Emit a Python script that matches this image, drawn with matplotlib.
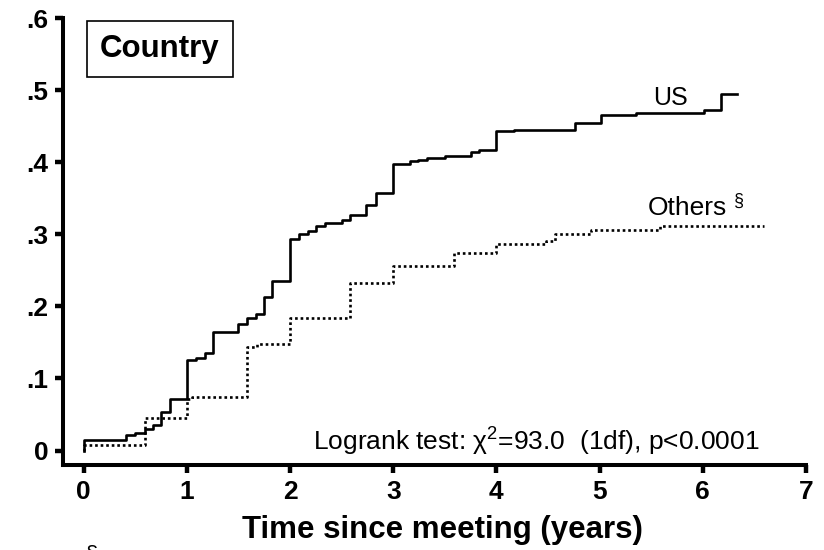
import matplotlib
matplotlib.use("Agg")
import matplotlib.pyplot as plt

# cumulative incidence (step curves)
us_time = [0, 0, 0.41, 0.495, 0.59, 0.67, 0.75, 0.835, 1.0, 1.09, 1.175, 1.255, 1.5, 1.58,
           1.67, 1.75, 1.83, 2.0, 2.09, 2.17, 2.25, 2.34, 2.5, 2.58, 2.74, 2.83, 3.0, 3.16,
           3.24, 3.33, 3.5, 3.75, 3.83, 4.0, 4.17, 4.76, 5.01, 5.35, 6.01, 6.18, 6.33]
us_value = [0, 0.014, 0.021, 0.025, 0.030, 0.035, 0.053, 0.071, 0.125, 0.129, 0.136, 0.164,
            0.176, 0.184, 0.190, 0.213, 0.235, 0.294, 0.300, 0.304, 0.312, 0.315, 0.320,
            0.327, 0.341, 0.357, 0.398, 0.401, 0.403, 0.406, 0.409, 0.414, 0.417, 0.443,
            0.445, 0.454, 0.466, 0.468, 0.473, 0.495, 0.495]

others_time = [0, 0, 0.59, 1.0, 1.05, 1.58, 1.68, 2.0, 2.58, 3.0, 3.59, 4.0, 4.48, 4.57,
               4.92, 5.59, 6.59]
others_value = [0, 0.008, 0.045, 0.071, 0.074, 0.144, 0.148, 0.184, 0.232, 0.256, 0.274,
                0.287, 0.291, 0.300, 0.306, 0.312, 0.312]

x_ticks = [0, 1, 2, 3, 4, 5, 6, 7]
y_ticks = [0, 0.1, 0.2, 0.3, 0.4, 0.5, 0.6]
y_tick_labels = ["0", ".1", ".2", ".3", ".4", ".5", ".6"]

plt.rcParams["font.family"] = ["Liberation Sans", "DejaVu Sans"]
plt.rcParams["mathtext.fontset"] = "custom"
plt.rcParams["mathtext.rm"] = "Liberation Sans"
plt.rcParams["mathtext.it"] = "Liberation Sans"

fig = plt.figure(figsize=(8.24, 5.5), dpi=100)
ax = fig.add_axes([63 / 824, 1 - 465 / 550, 743 / 824, 447 / 550])

ax.step(us_time, us_value, where="post", color="black", lw=1.9)
ax.step(others_time, others_value, where="post", color="black", lw=1.9,
        linestyle=(0, (1, 1.1)))

ax.set_xlim(-0.2, 7)
ax.set_ylim(-0.02, 0.6)
ax.set_xticks(x_ticks)
ax.set_yticks(y_ticks)
ax.set_yticklabels(y_tick_labels)

for side in ["top", "right"]:
    ax.spines[side].set_visible(False)
for side in ["left", "bottom"]:
    ax.spines[side].set_linewidth(2.9)
ax.tick_params(axis="both", direction="out", length=5.5, width=3.2,
               labelsize=19, pad=5)
for lab in ax.get_xticklabels() + ax.get_yticklabels():
    lab.set_fontweight("bold")

ax.text(5.52, 0.48, "US", fontsize=18, ha="left", va="baseline")
ax.text(5.47, 0.327, "Others", fontsize=19, ha="left", va="baseline")
ax.text(6.30, 0.340, "§", fontsize=13, ha="left", va="baseline")
ax.text(6.55, 0.0, r"Logrank test: χ$^{2}$=93.0  (1df), p<0.0001", fontsize=19,
        ha="right", va="baseline")

fig.text(160 / 824, 1 - 49 / 550, "Country", fontsize=22.5, fontweight="bold",
         ha="center", va="center",
         bbox=dict(boxstyle="square,pad=0.41", fc="white", ec="black", lw=1.2))

fig.text(442 / 824, 1 - 538 / 550, "Time since meeting (years)", fontsize=22.5,
         fontweight="bold", ha="center", va="baseline")
# footnote mark, cut by the lower edge as in the source figure
fig.text(86 / 824, 1 - 545 / 550, "§", fontsize=16, ha="left", va="top")

fig.savefig("out.png", dpi=100)
